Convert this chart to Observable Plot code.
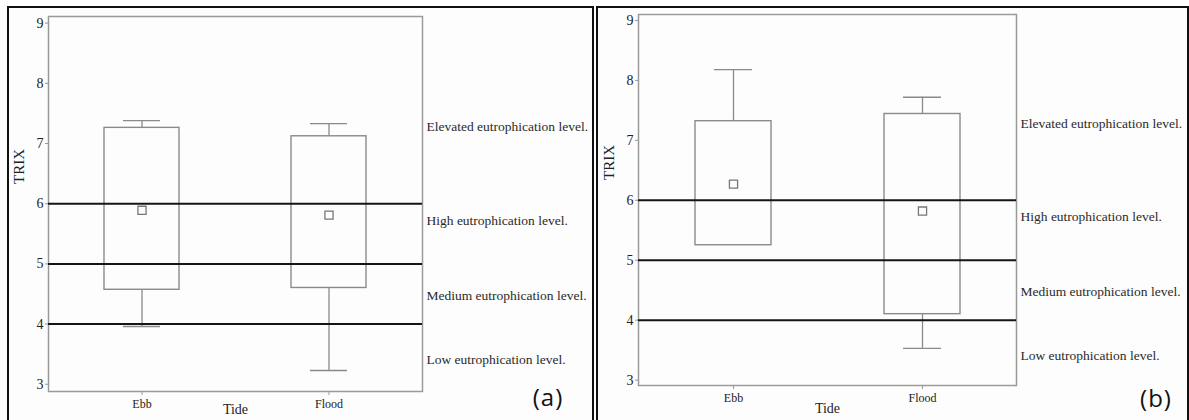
<!DOCTYPE html>
<html>
<head>
<meta charset="utf-8">
<script src="https://cdn.jsdelivr.net/npm/d3@7"></script>
<script src="https://cdn.jsdelivr.net/npm/@observablehq/plot@0.6"></script>
<style>
  html, body { margin: 0; padding: 0; background: #fdfdfd; overflow: hidden; }
  body { width: 1189px; height: 420px; position: relative; }
  .border { position: absolute; border: 2px solid #111; box-sizing: border-box; }
  .tag { position: absolute; font-family: "Open Sans", sans-serif; font-size: 24px; color: #111; transform: translate(-50%, -50%); letter-spacing: 1px; }
  .holder { position: absolute; top: 0; }
  .holder svg text { font-family: "Liberation Serif", serif; }
</style>
</head>
<body>
<div class="border" style="left:7px; top:6px; width:587px; height:440px;"></div>
<div class="border" style="left:596px; top:6px; width:593px; height:440px;"></div>
<div class="holder" id="pa" style="left:0px;"></div>
<div class="holder" id="pb" style="left:597px;"></div>
<div class="tag" style="left:548px; top:396px;">(a)</div>
<div class="tag" style="left:1156px; top:397px;">(b)</div>
<script>
// ---- data ----
const tides = ["Ebb", "Flood"];
const yTicks = [3, 4, 5, 6, 7, 8, 9];
const levels = [4, 5, 6];
const levelNames = [
  "Elevated eutrophication level.",
  "High eutrophication level.",
  "Medium eutrophication level.",
  "Low eutrophication level."
];
const levelLabelY = [7.28, 5.72, 4.47, 3.41];

// panel (a)
const minA  = [3.96, 3.23];
const q1A   = [4.57, 4.60];
const q3A   = [7.26, 7.12];
const maxA  = [7.38, 7.33];
const meanA = [5.89, 5.81];

// panel (b)
const minB  = [5.25, 3.53];
const q1B   = [5.25, 4.10];
const q3B   = [7.32, 7.44];
const maxB  = [8.18, 7.72];
const meanB = [6.27, 5.82];

function table(mn, q1, q3, mx, mean) {
  return tides.map((t, i) => ({tide: t, min: mn[i], q1: q1[i], q3: q3[i], max: mx[i], mean: mean[i]}));
}

function panel(data, cfg) {
  const boxStroke = "#8a8a8a";
  return Plot.plot({
    width: cfg.width,
    height: 440,
    marginLeft: cfg.ml,
    marginRight: cfg.mr,
    marginTop: cfg.mt,
    marginBottom: 440 - cfg.fb,
    style: {fontFamily: "'Liberation Serif', serif", fontSize: "13px", background: "transparent", color: "#222", overflow: "visible"},
    x: {type: "band", domain: tides, paddingInner: 0.6, paddingOuter: 0.3, label: null},
    y: {domain: cfg.ydom, label: null},
    marks: [
      Plot.frame({stroke: "#9a9a9a", strokeWidth: 1.5}),
      Plot.axisY({ticks: yTicks, tickSize: 3, tickPadding: 2, tickFormat: d => d, fontSize: 14, label: null, stroke: "#999"}),
      Plot.axisX({tickSize: 4, tickPadding: 4, fontSize: 12, label: null, stroke: "#999"}),
      Plot.barY(data, {x: "tide", y1: "q1", y2: "q3", fill: "none", stroke: boxStroke, strokeWidth: 1.4}),
      Plot.ruleX(data, {x: "tide", y1: "min", y2: "q1", stroke: boxStroke, strokeWidth: 1.3}),
      Plot.ruleX(data, {x: "tide", y1: "q3", y2: "max", stroke: boxStroke, strokeWidth: 1.3}),
      Plot.tickY(data.filter(d => d.min < d.q1), {x: "tide", y: "min", insetLeft: 19, insetRight: 19, stroke: boxStroke, strokeWidth: 1.4}),
      Plot.tickY(data, {x: "tide", y: "max", insetLeft: 19, insetRight: 19, stroke: boxStroke, strokeWidth: 1.4}),
      Plot.ruleY(levels, {stroke: "#151515", strokeWidth: 2}),
      Plot.dot(data, {x: "tide", y: "mean", symbol: "square", r: 4.6, stroke: "#777", strokeWidth: 1.3, fill: "#fdfdfd"}),
      Plot.text(levelNames, {y: (d, i) => levelLabelY[i], text: d => d, frameAnchor: "right", textAnchor: "start", dx: 4, fontSize: 13.5, fill: "#2a2a2a"}),
      Plot.text(["TRIX"], {text: d => d, frameAnchor: "left", rotate: -90, dx: -29, dy: -20, fontSize: 15, fill: "#222"}),
      Plot.text(["Tide"], {text: d => d, frameAnchor: "bottom", dy: cfg.tideDy, fontSize: 14, fill: "#222"})
    ]
  });
}

document.getElementById("pa").appendChild(panel(table(minA, q1A, q3A, maxA, meanA),
  {width: 592, ml: 48, mr: 170, mt: 16, fb: 391, ydom: [2.88, 9.11], tideDy: 22}));
document.getElementById("pb").appendChild(panel(table(minB, q1B, q3B, maxB, meanB),
  {width: 591, ml: 41, mr: 172, mt: 14, fb: 385, ydom: [2.91, 9.10], tideDy: 27}));
</script>
</body>
</html>
